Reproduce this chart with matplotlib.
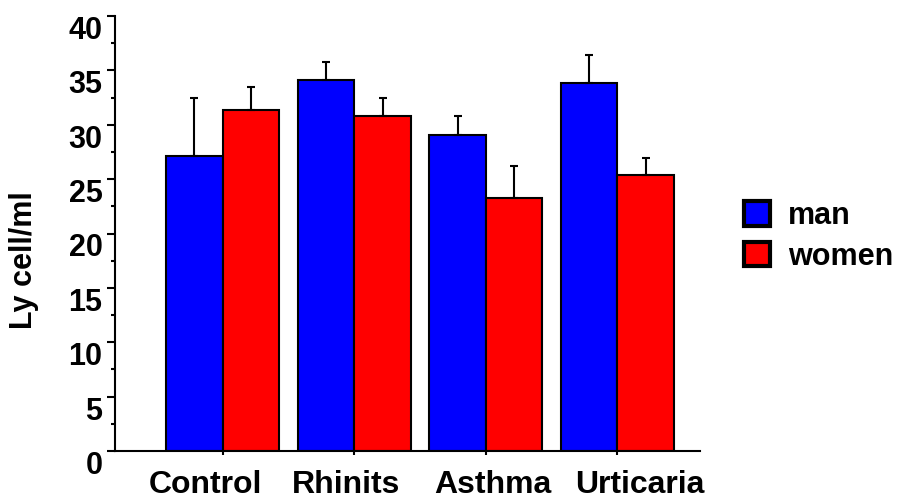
import matplotlib.pyplot as plt
import matplotlib.transforms as mtransforms
from matplotlib.patches import Patch
from matplotlib.ticker import MultipleLocator
import numpy as np

plt.rcParams['font.family'] = ['Liberation Sans', 'DejaVu Sans']
plt.rcParams['font.weight'] = 'bold'

groups = ["Control", "Rhinits", "Asthma", "Urticaria"]
man = [27.1, 34.1, 29.1, 33.8]
man_err = [5.4, 1.7, 1.7, 2.6]
women = [31.4, 30.8, 23.3, 25.4]
women_err = [2.1, 1.7, 2.9, 1.5]

# horizontal nudge of each category label (pixels)
label_shift = [-17, -8, 7, 22]

fig = plt.figure(figsize=(9.01, 5.0), dpi=100)
ax = fig.add_axes([0.1276, 0.098, 0.649, 0.87])

x = np.arange(len(groups))
w = 0.43
err_kw = dict(ecolor="black", elinewidth=1.5, capsize=3, capthick=1.5)
ax.bar(x - w / 2, man, w, yerr=[np.zeros(4), man_err], color="#0000ff",
       edgecolor="black", linewidth=1.5, error_kw=err_kw, label="man")
ax.bar(x + w / 2, women, w, yerr=[np.zeros(4), women_err], color="#ff0000",
       edgecolor="black", linewidth=1.5, error_kw=err_kw, label="women")

ax.set_xlim(-0.818, 3.625)
ax.set_ylim(0, 40)

for side in ["top", "right"]:
    ax.spines[side].set_visible(False)
for side in ["left", "bottom"]:
    ax.spines[side].set_linewidth(1.5)

ax.yaxis.set_major_locator(MultipleLocator(5))
ax.yaxis.set_minor_locator(MultipleLocator(2.5))
ax.tick_params(axis="y", which="major", direction="out", length=6, width=1.5,
               pad=3, labelsize=22)
ax.tick_params(axis="y", which="minor", direction="out", length=3, width=1.5)
for lab in ax.get_yticklabels():
    lab.set_verticalalignment("top")

ax.set_xticks(x)
ax.set_xticklabels(groups)
ax.tick_params(axis="x", direction="out", length=3, width=1.5, pad=11,
               labelsize=23)
for lab, dx in zip(ax.get_xticklabels(), label_shift):
    lab.set_transform(lab.get_transform() +
                      mtransforms.ScaledTranslation(dx / 100, 0, fig.dpi_scale_trans))

ax.set_ylabel("Ly cell/ml", fontsize=22, fontweight="bold")
ax.yaxis.set_label_coords(-0.13, 0.439)

handles = [Patch(facecolor="#0000ff", edgecolor="black", linewidth=3),
           Patch(facecolor="#ff0000", edgecolor="black", linewidth=3)]
fig.legend(handles, ["man", "women"], loc="upper left",
           bbox_to_anchor=(744 / 901, 1 - 201 / 500), frameon=False,
           fontsize=22, handlelength=0.85, handleheight=0.85,
           handletextpad=0.6, labelspacing=0.35, borderpad=0,
           borderaxespad=0)

fig.savefig("out.png", dpi=100)
